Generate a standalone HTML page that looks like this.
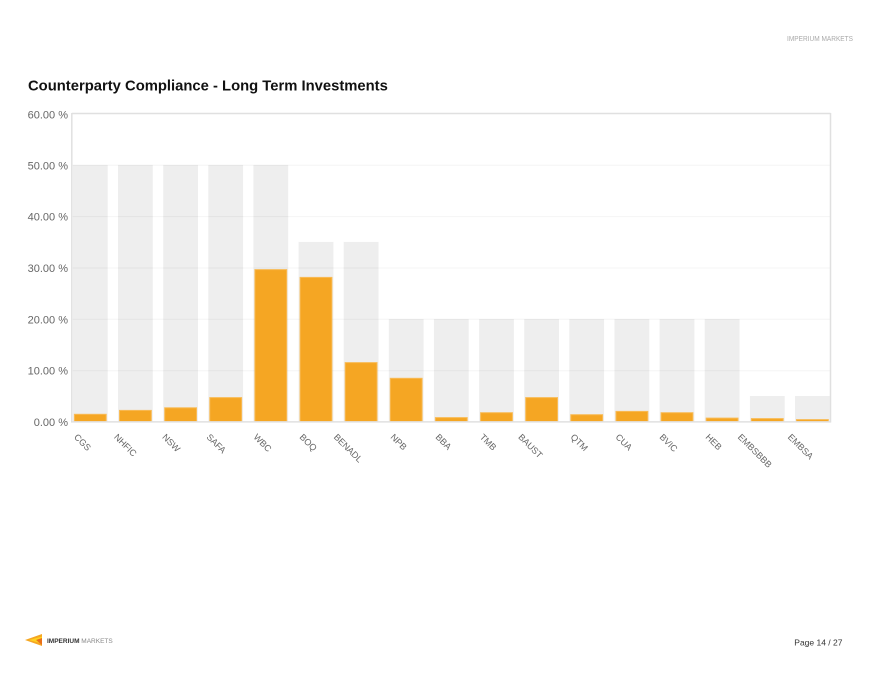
<!DOCTYPE html>
<html>
<head>
<meta charset="utf-8">
<style>
  html,body{margin:0;padding:0;background:#fff;}
  svg{display:block;}
  text{font-family:"Liberation Sans",Arial,sans-serif;}
</style>
</head>
<body>
<svg width="873" height="675" viewBox="0 0 873 675" xmlns="http://www.w3.org/2000/svg">
  <rect x="0" y="0" width="873" height="675" fill="#fff"/>

  <!-- top-right header text (faint) -->
  <text x="787" y="41" font-size="7.5" fill="#aaa" textLength="66" lengthAdjust="spacingAndGlyphs">IMPERIUM MARKETS</text>

  <!-- Title -->
  <text x="28" y="90.5" font-size="14.8" font-weight="bold" fill="#111">Counterparty Compliance - Long Term Investments</text>

  <!-- grey limit bars -->
  <g fill="#eeeeee">
    <rect x="72.9" y="164.9" width="34.8" height="256.8"/>
    <rect x="118.0" y="164.9" width="34.8" height="256.8"/>
    <rect x="163.2" y="164.9" width="34.8" height="256.8"/>
    <rect x="208.3" y="164.9" width="34.8" height="256.8"/>
    <rect x="253.4" y="164.9" width="34.8" height="256.8"/>
    <rect x="298.6" y="241.9" width="34.8" height="179.8"/>
    <rect x="343.7" y="241.9" width="34.8" height="179.8"/>
    <rect x="388.8" y="319.0" width="34.8" height="102.7"/>
    <rect x="433.9" y="319.0" width="34.8" height="102.7"/>
    <rect x="479.1" y="319.0" width="34.8" height="102.7"/>
    <rect x="524.2" y="319.0" width="34.8" height="102.7"/>
    <rect x="569.3" y="319.0" width="34.8" height="102.7"/>
    <rect x="614.5" y="319.0" width="34.8" height="102.7"/>
    <rect x="659.6" y="319.0" width="34.8" height="102.7"/>
    <rect x="704.7" y="319.0" width="34.8" height="102.7"/>
    <rect x="749.9" y="396.0" width="34.8" height="25.7"/>
    <rect x="795.0" y="396.0" width="34.8" height="25.7"/>
  </g>

  <!-- gridlines -->
  <g stroke="rgba(0,0,0,0.045)" stroke-width="1">
    <line x1="72" y1="165.3" x2="830" y2="165.3"/>
    <line x1="72" y1="216.6" x2="830" y2="216.6"/>
    <line x1="72" y1="268.0" x2="830" y2="268.0"/>
    <line x1="72" y1="319.3" x2="830" y2="319.3"/>
    <line x1="72" y1="370.7" x2="830" y2="370.7"/>
  </g>

  <!-- orange actual bars -->
  <g fill="#f5a623" stroke="#f8bb55" stroke-width="1">
    <rect x="74.4" y="414.3" width="31.8" height="7.4"/>
    <rect x="119.5" y="410.4" width="31.8" height="11.3"/>
    <rect x="164.7" y="407.8" width="31.8" height="13.9"/>
    <rect x="209.8" y="397.6" width="31.8" height="24.1"/>
    <rect x="254.9" y="269.6" width="31.8" height="152.1"/>
    <rect x="300.1" y="277.4" width="31.8" height="144.3"/>
    <rect x="345.2" y="362.6" width="31.8" height="59.1"/>
    <rect x="390.3" y="378.3" width="31.8" height="43.4"/>
    <rect x="435.4" y="417.6" width="31.8" height="4.1"/>
    <rect x="480.6" y="412.7" width="31.8" height="9.0"/>
    <rect x="525.7" y="397.6" width="31.8" height="24.1"/>
    <rect x="570.8" y="414.7" width="31.8" height="7.0"/>
    <rect x="616.0" y="411.4" width="31.8" height="10.3"/>
    <rect x="661.1" y="412.7" width="31.8" height="9.0"/>
    <rect x="706.2" y="418.1" width="31.8" height="3.6"/>
    <rect x="751.4" y="418.6" width="31.8" height="3.1"/>
    <rect x="796.5" y="419.6" width="31.8" height="2.1"/>
  </g>

  <!-- axis frame -->
  <g stroke="#e0e0e0" stroke-width="1.5" fill="none">
    <line x1="71.8" y1="113.5" x2="830.5" y2="113.5"/>
    <line x1="71.8" y1="113" x2="71.8" y2="422.5"/>
    <line x1="830.5" y1="113" x2="830.5" y2="422.5"/>
    <line x1="71" y1="421.9" x2="831" y2="421.9"/>
  </g>

  <!-- y tick labels -->
  <g font-size="11" fill="#666" text-anchor="end">
    <text x="68" y="118.5">60.00 %</text>
    <text x="68" y="169.3">50.00 %</text>
    <text x="68" y="220.6">40.00 %</text>
    <text x="68" y="272.0">30.00 %</text>
    <text x="68" y="323.3">20.00 %</text>
    <text x="68" y="374.7">10.00 %</text>
    <text x="68" y="426.0">0.00 %</text>
  </g>

  <!-- x labels, rotated 45deg -->
  <g font-size="9" fill="#666">
    <text transform="translate(73.5,437.6) rotate(45)">CGS</text>
    <text transform="translate(113.5,437.6) rotate(45)">NHFIC</text>
    <text transform="translate(161.7,437.6) rotate(45)">NSW</text>
    <text transform="translate(206,437.6) rotate(45)">SAFA</text>
    <text transform="translate(253,437.6) rotate(45)">WBC</text>
    <text transform="translate(299,437.6) rotate(45)">BOQ</text>
    <text transform="translate(333.3,437.6) rotate(45)">BENADL</text>
    <text transform="translate(390,437.6) rotate(45)">NPB</text>
    <text transform="translate(435,437.6) rotate(45)">BBA</text>
    <text transform="translate(479.3,437.6) rotate(45)">TMB</text>
    <text transform="translate(517.7,437.6) rotate(45)">BAUST</text>
    <text transform="translate(570,437.6) rotate(45)">QTM</text>
    <text transform="translate(615,437.6) rotate(45)">CUA</text>
    <text transform="translate(659,437.6) rotate(45)">BVIC</text>
    <text transform="translate(705,437.6) rotate(45)">HEB</text>
    <text transform="translate(737.3,437.6) rotate(45)">EMBSBBB</text>
    <text transform="translate(787.3,437.6) rotate(45)">EMBSA</text>
  </g>

  <!-- footer logo -->
  <g>
    <polygon points="25,640 42,634 42,646" fill="#f5a623"/>
    <polygon points="29,640 42,636.5 42,643.5" fill="#ffd21f"/>
    <polygon points="36,640 42,638 42,645" fill="#e8701a"/>
  </g>
  <text x="47" y="643" font-size="6.5" fill="#333"><tspan font-weight="bold">IMPERIUM</tspan><tspan fill="#888"> MARKETS</tspan></text>

  <!-- page number -->
  <text x="842.5" y="645.5" font-size="8.5" fill="#333" text-anchor="end">Page 14 / 27</text>
</svg>
</body>
</html>
